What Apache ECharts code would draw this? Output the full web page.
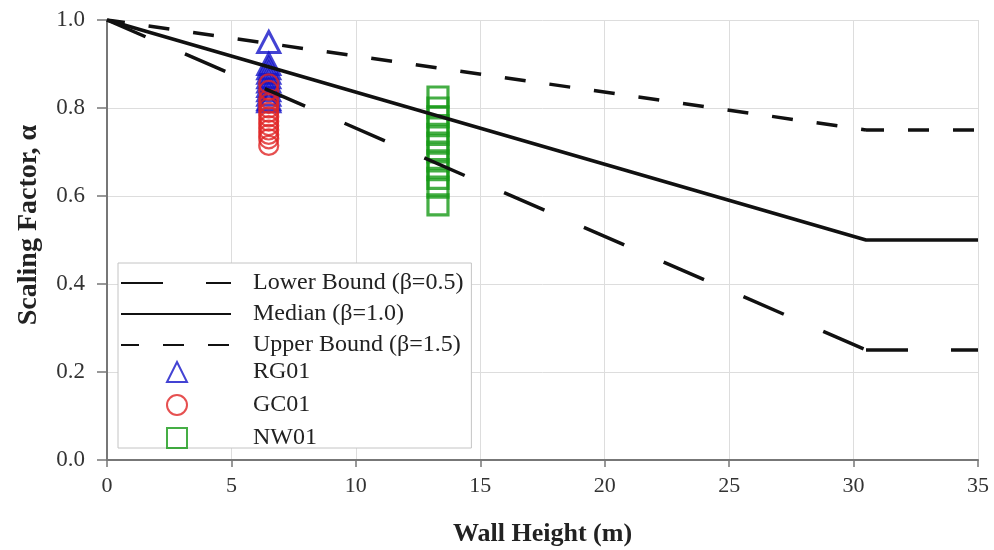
<!DOCTYPE html>
<html>
<head>
<meta charset="utf-8">
<script src="https://cdn.jsdelivr.net/npm/echarts@6/dist/echarts.min.js"></script>
<style>html,body{margin:0;padding:0;background:#fff}#c{width:994px;height:550px}</style>
</head>
<body>
<div id="c"></div>
<script>
// Bound curves
var wallHeights = [0, 30.5, 35];
var lowerBound = [1.0, 0.25, 0.25];
var medianLine = [1.0, 0.50, 0.50];
var upperBound = [1.0, 0.75, 0.75];

// Measured data
var rg01X = 6.5;
var rg01 = [0.95, 0.90, 0.89, 0.88, 0.87, 0.86, 0.85, 0.84, 0.83, 0.82, 0.815];
var gc01X = 6.5;
var gc01 = [0.855, 0.84, 0.82, 0.81, 0.80, 0.79, 0.78, 0.77, 0.76, 0.75, 0.74, 0.73, 0.715];
var nw01X = 13.3;
var nw01 = [0.825, 0.80, 0.78, 0.76, 0.74, 0.72, 0.70, 0.68, 0.66, 0.64, 0.62, 0.58];

var xTicks = [0, 5, 10, 15, 20, 25, 30, 35];
var yTicks = [0.0, 0.2, 0.4, 0.6, 0.8, 1.0];

var lineNames = ['Lower Bound (β=0.5)', 'Median (β=1.0)', 'Upper Bound (β=1.5)'];
var pointNames = ['RG01', 'GC01', 'NW01'];

function pairs(xs, ys) { return xs.map(function (x, i) { return [x, ys[i]]; }); }
function column(x, ys) { return ys.map(function (y) { return [x, y]; }); }
// dashed lines restart their dash pattern at each segment (as in the original)
function segment(ys, i) { return pairs(wallHeights.slice(i, i + 2), ys.slice(i, i + 2)); }

var font = 'Liberation Serif, Times New Roman, serif';
var hideSymbol = { color: 'rgba(0,0,0,0)', borderWidth: 0, borderColor: 'rgba(0,0,0,0)' };
var lowerStyle = { color: '#111', width: 3.5, type: [44, 43], dashOffset: 2 };
var upperStyle = { color: '#111', width: 3.5, type: [21, 24], dashOffset: 3 };

var chart = echarts.init(document.getElementById('c'));
chart.setOption({
  animation: false,
  backgroundColor: '#fff',
  textStyle: { fontFamily: font },
  grid: { left: 107, right: 16, top: 20, bottom: 90, outerBoundsMode: 'none', containLabel: false },
  legend: [{
    orient: 'vertical',
    left: 118, top: 263,
    padding: [8, 8, 91, 2],
    itemGap: 7,
    itemWidth: 110,
    itemHeight: 20,
    borderColor: '#c4c4c4',
    borderWidth: 1,
    backgroundColor: '#fff',
    textStyle: { fontFamily: font, fontSize: 24, lineHeight: 20, color: '#222', padding: [0, 0, 0, 17] },
    data: lineNames.map(function (n) { return { name: n, itemStyle: hideSymbol }; })
  }, {
    orient: 'vertical',
    left: 166, top: 360,
    z: 10,
    padding: 0,
    itemGap: 9,
    itemWidth: 20,
    itemHeight: 20,
    textStyle: { fontFamily: font, fontSize: 24, lineHeight: 20, color: '#222', padding: [0, 0, 0, 61] },
    data: pointNames
  }],
  xAxis: {
    type: 'value', min: xTicks[0], max: xTicks[xTicks.length - 1], interval: 5,
    name: 'Wall Height (m)', nameLocation: 'middle', nameGap: 61,
    nameTextStyle: { fontFamily: font, fontSize: 26, fontWeight: 'bold', color: '#222' },
    axisLine: { lineStyle: { color: '#777', width: 2 } },
    axisTick: { lineStyle: { color: '#777', width: 1.5 }, length: 7 },
    axisLabel: { fontFamily: font, fontSize: 22, color: '#333', margin: 15 },
    splitLine: { show: true, lineStyle: { color: '#ddd', width: 1 } }
  },
  yAxis: {
    type: 'value', min: yTicks[0], max: yTicks[yTicks.length - 1], interval: 0.2,
    name: 'Scaling Factor, α', nameLocation: 'middle', nameGap: 64,
    nameTextStyle: { fontFamily: font, fontSize: 28, fontWeight: 'bold', color: '#222', padding: [0, 0, 0, 30] },
    axisLine: { show: true, lineStyle: { color: '#777', width: 2 } },
    axisTick: { show: true, lineStyle: { color: '#777', width: 1.5 }, length: 10 },
    axisLabel: { fontFamily: font, fontSize: 23, color: '#333', margin: 22, formatter: function (v) { return v.toFixed(1); } },
    splitLine: { show: true, lineStyle: { color: '#ddd', width: 1 } }
  },
  series: [
    { name: lineNames[0], type: 'line', z: 5, symbol: 'none', data: segment(lowerBound, 0),
      lineStyle: lowerStyle, itemStyle: { color: '#111' } },
    { name: lineNames[0], type: 'line', z: 5, symbol: 'none', data: segment(lowerBound, 1),
      lineStyle: lowerStyle, itemStyle: { color: '#111' } },
    { name: lineNames[1], type: 'line', z: 5, symbol: 'none', data: pairs(wallHeights, medianLine),
      lineStyle: { color: '#111', width: 3.5 }, itemStyle: { color: '#111' } },
    { name: lineNames[2], type: 'line', z: 5, symbol: 'none', data: segment(upperBound, 0),
      lineStyle: upperStyle, itemStyle: { color: '#111' } },
    { name: lineNames[2], type: 'line', z: 5, symbol: 'none', data: segment(upperBound, 1),
      lineStyle: upperStyle, itemStyle: { color: '#111' } },
    { name: pointNames[0], type: 'scatter', z: 3, symbol: 'triangle', symbolSize: [22, 21],
      data: column(rg01X, rg01),
      itemStyle: { color: 'rgba(0,0,0,0)', borderColor: '#1414c8', borderWidth: 3 } },
    { name: pointNames[1], type: 'scatter', z: 3, symbol: 'circle', symbolSize: 19,
      data: column(gc01X, gc01),
      itemStyle: { color: 'rgba(0,0,0,0)', borderColor: '#e02424', borderWidth: 2.2 } },
    { name: pointNames[2], type: 'scatter', z: 3, symbol: 'rect', symbolSize: 20,
      data: column(nw01X, nw01),
      itemStyle: { color: 'rgba(0,0,0,0)', borderColor: '#169a16', borderWidth: 3.2 } }
  ]
});
</script>
</body>
</html>
